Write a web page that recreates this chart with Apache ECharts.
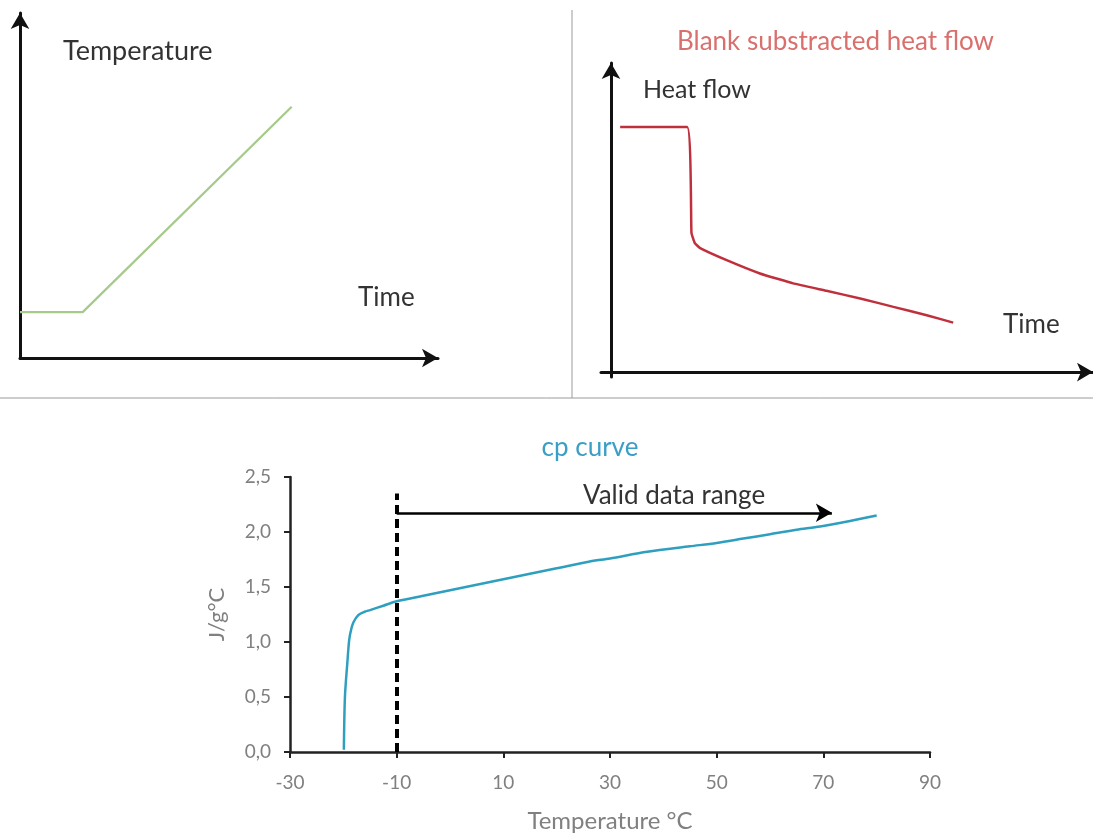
<!DOCTYPE html>
<html>
<head>
<meta charset="utf-8">
<script src="https://cdn.jsdelivr.net/npm/echarts@6/dist/echarts.min.js"></script>
<style>
html,body{margin:0;padding:0;background:#fff;}
#chart{width:1093px;height:836px;}
</style>
</head>
<body>
<div id="chart"></div>
<script>
// ---- Data ----
// Panel 1: temperature programme (schematic units)
const tempTime = [0, 15, 65];
const tempValue = [13.3, 13.3, 72.8];

// Panel 2: blank-subtracted heat flow (schematic units)
const hfTime = [1.9, 15.8, 16.7, 17.4, 18.5, 24.0, 30.9, 37.8, 44.7, 51.7, 58.6, 65.5, 71.0];
const hfValue = [79.3, 79.3, 45.0, 41.7, 40.1, 36.2, 31.9, 28.7, 26.3, 23.8, 21.1, 18.4, 16.0];

// Panel 3: cp curve
const cpTemp = [-19.9, -19.7, -19.25, -18.9, -18.5, -18.1, -17.2, -16, -15, -12.5, -10, -5, 0, 5, 10, 15, 20, 26, 30, 37, 45, 50, 55, 60, 65, 69.4, 75, 80];
const cpValue = [0.02, 0.50, 0.81, 1.02, 1.12, 1.18, 1.245, 1.275, 1.29, 1.33, 1.37, 1.42, 1.47, 1.52, 1.57, 1.62, 1.67, 1.73, 1.76, 1.82, 1.87, 1.90, 1.94, 1.98, 2.02, 2.05, 2.10, 2.15];
const xTicks = [-30, -10, 10, 30, 50, 70, 90];
const yTicks = [0, 0.5, 1.0, 1.5, 2.0, 2.5];
const validStart = -10;
const validEnd = 71.6;
const validLevel = 2.175;
const dashBottom = 0;
const dashTop = 2.35;

const FONT = 'Lato';
const chart = echarts.init(document.getElementById('chart'), null, {renderer: 'canvas'});

function zip(a, b) { return a.map((v, i) => [v, b[i]]); }

const arrowAxis = {
  show: true,
  onZero: true,
  lineStyle: {color: '#111', width: 3},
  symbol: ['none', 'arrow'],
  symbolSize: [14, 16],
  symbolOffset: [0, 0]
};

const option = {
  backgroundColor: '#fff',
  animation: false,
  textStyle: {fontFamily: FONT},
  title: [{
    text: 'cp curve',
    left: 585, top: 430, textAlign: 'center',
    textStyle: {color: '#3a9ec6', fontSize: 26, fontWeight: 'normal', fontFamily: FONT}
  }],
  grid: [
    {left: 20, top: 13, width: 418, height: 345},
    {left: 601, top: 63, width: 492, height: 314},
    {left: 290, top: 477, width: 640, height: 275}
  ],
  xAxis: [
    {gridIndex: 0, type: 'value', min: 0, max: 100, axisLine: arrowAxis,
     axisTick: {show: false}, axisLabel: {show: false}, splitLine: {show: false}},
    {gridIndex: 1, type: 'value', min: -2.07, max: 100, axisLine: arrowAxis,
     axisTick: {show: false}, axisLabel: {show: false}, splitLine: {show: false}},
    {gridIndex: 2, type: 'value', min: -30, max: 90,
     name: 'Temperature °C', nameLocation: 'middle', nameGap: 57,
     nameTextStyle: {color: '#808080', fontSize: 24, fontFamily: FONT},
     axisLine: {show: true, onZero: false, lineStyle: {color: '#222', width: 2.5}},
     axisTick: {show: true, customValues: xTicks, length: 6, lineStyle: {color: '#222', width: 2}},
     axisLabel: {show: true, customValues: xTicks, margin: 21, color: '#808080', fontSize: 19, fontFamily: FONT},
     splitLine: {show: false}}
  ],
  yAxis: [
    {gridIndex: 0, type: 'value', min: 0, max: 100, axisLine: arrowAxis,
     axisTick: {show: false}, axisLabel: {show: false}, splitLine: {show: false}},
    {gridIndex: 1, type: 'value', min: -1.6, max: 100, axisLine: arrowAxis,
     axisTick: {show: false}, axisLabel: {show: false}, splitLine: {show: false}},
    {gridIndex: 2, type: 'value', min: 0, max: 2.5,
     name: 'J/g°C', nameLocation: 'middle', nameGap: 62, nameRotate: 90,
     nameTextStyle: {color: '#808080', fontSize: 22, fontFamily: FONT},
     axisLine: {show: true, onZero: false, lineStyle: {color: '#222', width: 2.5}},
     axisTick: {show: true, customValues: yTicks, length: 6, lineStyle: {color: '#222', width: 2}},
     axisLabel: {show: true, customValues: yTicks, margin: 19, color: '#808080', fontSize: 19, fontFamily: FONT,
       formatter: v => Number(v).toFixed(1).replace('.', ',')},
     splitLine: {show: false}}
  ],
  series: [
    {type: 'line', xAxisIndex: 0, yAxisIndex: 0, data: zip(tempTime, tempValue),
     showSymbol: false, lineStyle: {color: '#a6ca8a', width: 2.2}},
    {type: 'line', xAxisIndex: 1, yAxisIndex: 1, data: zip(hfTime, hfValue),
     showSymbol: false, smooth: 0.1, lineStyle: {color: '#c0303c', width: 2.5}},
    {type: 'line', xAxisIndex: 2, yAxisIndex: 2, data: zip(cpTemp, cpValue),
     showSymbol: false, smooth: 0.3, lineStyle: {color: '#2f9fbf', width: 2.5},
     markLine: {
       silent: true, animation: false,
       data: [
         [{coord: [validStart, dashBottom], symbol: 'none'}, {coord: [validStart, dashTop], symbol: 'none',
           lineStyle: {color: '#000', width: 4, type: [9, 5]}}],
         [{coord: [validStart, validLevel], symbol: 'none'}, {coord: [validEnd, validLevel], symbol: 'arrow', symbolSize: [14, 16],
           lineStyle: {color: '#000', width: 2.5, type: 'solid'}}]
       ],
       label: {show: false}
     }}
  ],
  graphic: [
    {type: 'line', shape: {x1: 572, y1: 10, x2: 572, y2: 398}, style: {stroke: '#9a9a9a', lineWidth: 1}},
    {type: 'line', shape: {x1: 0, y1: 398, x2: 1093, y2: 398}, style: {stroke: '#9a9a9a', lineWidth: 1}},
    {type: 'text', left: 63, top: 38, style: {text: 'Temperature', fill: '#333', font: '27px ' + FONT}},
    {type: 'text', left: 358, top: 285, style: {text: 'Time', fill: '#333', font: '26px ' + FONT}},
    {type: 'text', left: 677, top: 29, style: {text: 'Blank substracted heat flow', fill: '#d9706d', font: '26px ' + FONT}},
    {type: 'text', left: 643, top: 77, style: {text: 'Heat flow', fill: '#333', font: '25px ' + FONT}},
    {type: 'text', left: 1003, top: 312, style: {text: 'Time', fill: '#333', font: '26px ' + FONT}},
    {type: 'text', left: 583, top: 483, style: {text: 'Valid data range', fill: '#333', font: '26px ' + FONT}}
  ]
};
chart.setOption(option);
</script>
</body>
</html>
